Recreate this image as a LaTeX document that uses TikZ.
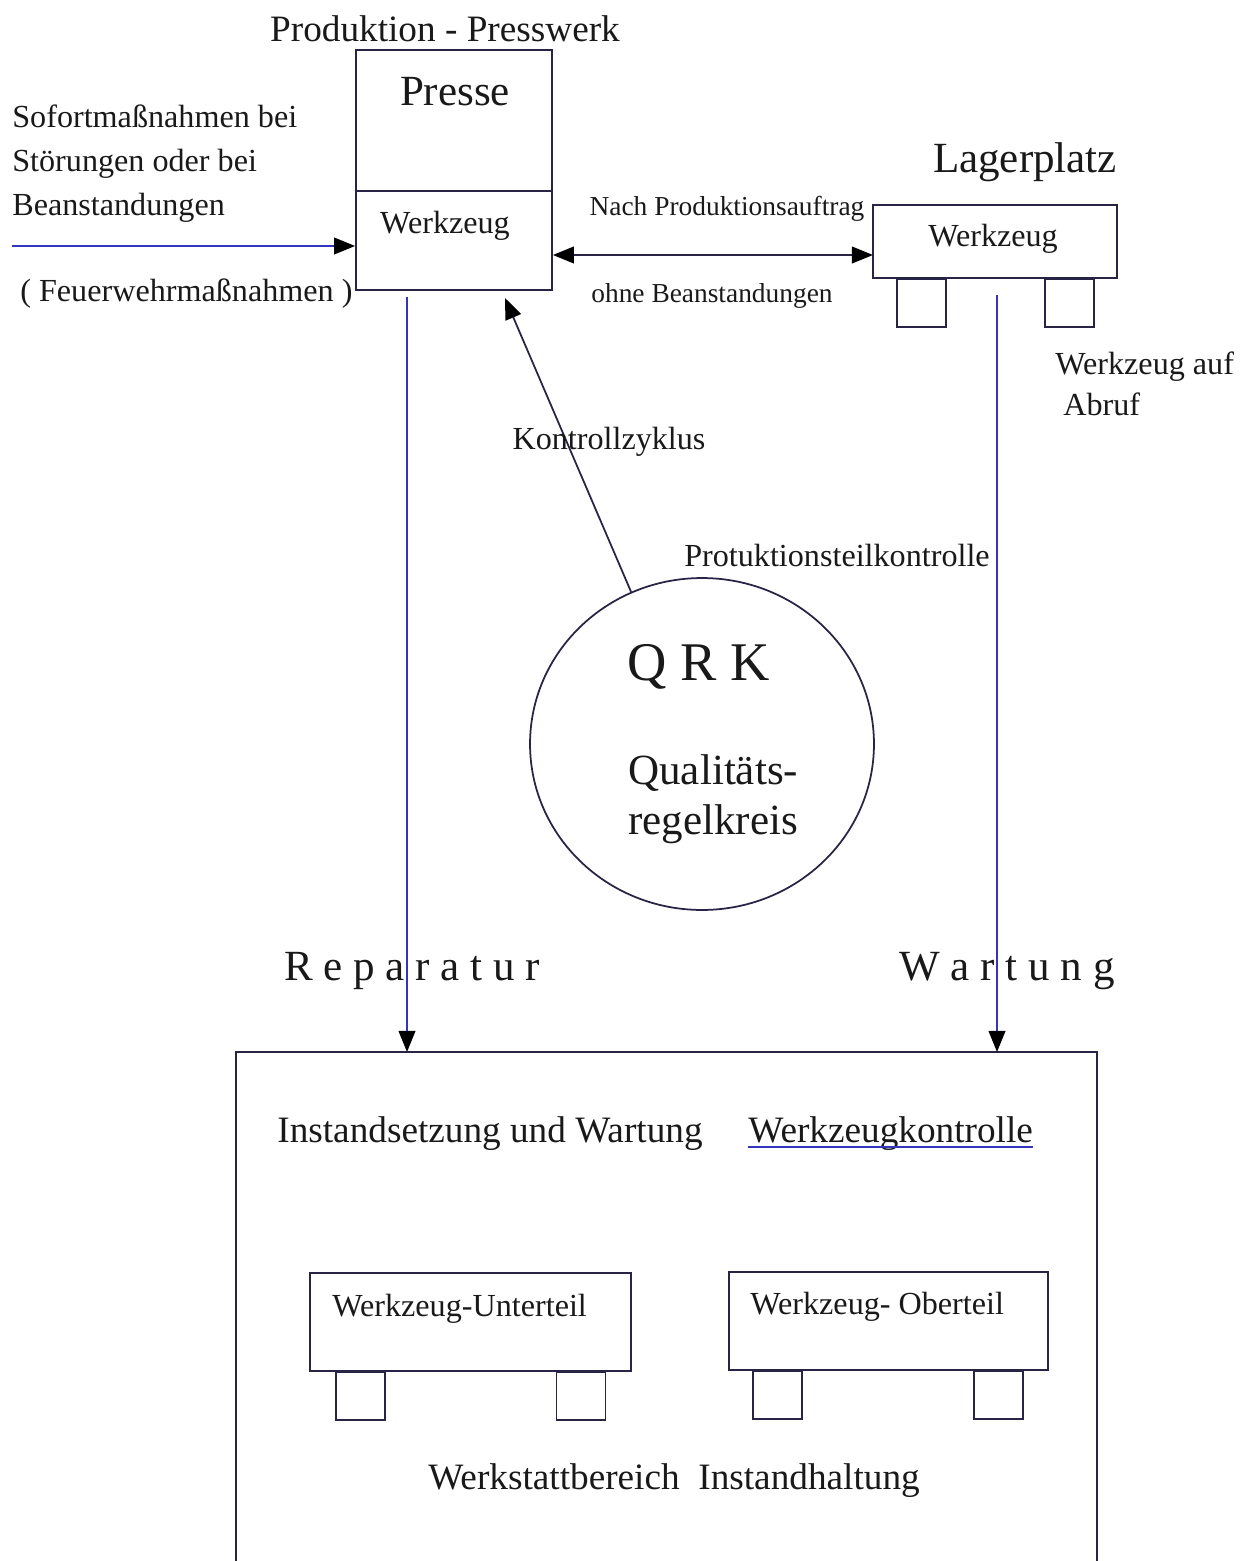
\documentclass[tikz,border=0pt]{standalone}
\usepackage{fontspec}
\setmainfont{Liberation Serif}
\usetikzlibrary{arrows.meta, shapes.geometric}
\definecolor{blaulinie}{RGB}{52,52,190}
\definecolor{dunkellinie}{RGB}{40,36,70}
\definecolor{schrift}{RGB}{25,25,25}
\newcommand{\fsklein}{\fontsize{15.6}{20}\selectfont}
\newcommand{\fsnorm}{\fontsize{18.3}{25}\selectfont}
\newcommand{\fsmittel}{\fontsize{21.2}{26}\selectfont}
\newcommand{\fsgross}{\fontsize{24.5}{28.5}\selectfont}
\newcommand{\fsqrk}{\fontsize{31}{36}\selectfont}

\tikzset{
  blau/.style={draw=blaulinie, line width=1pt},
  dunkel/.style={draw=dunkellinie, line width=1pt},
  arr/.style={-{Triangle[length=12pt, width=9.5pt, color=black]}},
  arrbeide/.style={{Triangle[length=12pt, width=9.5pt, color=black]}-{Triangle[length=12pt, width=9.5pt, color=black]}},
  box/.style={dunkel, rectangle, inner sep=0pt},
  fuss/.style={box, minimum width=0.98cm, minimum height=0.96cm, anchor=north},
  txt/.style={inner sep=0pt, text=schrift, font=\fsnorm, yshift=-0.08cm},
}

\begin{document}
\begin{tikzpicture}[x=0.02cm, y=-0.02cm]
\useasboundingbox (0,0) rectangle (1250,1561);

% Presswerk
\node[txt, font=\fsmittel] (produktion) at (445,25) {Produktion - Presswerk};
\node[box, minimum width=3.92cm, minimum height=4.8cm] (presse) at (454,170) {};
\draw[box] (presse.west |- 0,191) -- (presse.east |- 0,191);
\node[txt, font=\fsgross] (presse-titel) at (455,88) {Presse};
\node[txt] (presse-wz) at (445,222) {Werkzeug};

\node[txt, anchor=west, align=left] (sofort) at (12,160)
	{Sofortmaßnahmen bei\\Störungen oder bei\\Beanstandungen};
\coordinate (sofort-start) at (12,246);
\draw[blau, arr] (sofort-start) -- (sofort-start -| presse.west);
\node[txt, anchor=west] (feuerwehr) at (20,290) {( Feuerwehrmaßnahmen )};

% Lagerplatz
\node[txt, font=\fsgross] (lagerplatz) at (1025,158) {Lagerplatz};
\node[box, minimum width=4.88cm, minimum height=1.46cm] (lager) at (995,241.5) {};
\node[txt] (lager-wz) at (993,235) {Werkzeug};
\node[fuss] (lager-fuss1) at (921.5,278) {};
\node[fuss] (lager-fuss2) at (1069.5,278) {};
\node[txt, anchor=west] (abruf1) at (1055,363) {Werkzeug auf};
\node[txt, anchor=west] (abruf2) at (1063,400) {Abruf};

\coordinate (auftrag) at (873,255);
\draw[dunkel, arrbeide] (presse.east |- auftrag) -- (auftrag);
\node[txt, font=\fsklein] (nach) at (727,205) {Nach Produktionsauftrag};
\node[txt, font=\fsklein] (ohne) at (712,292) {ohne Beanstandungen};

% Qualitaetsregelkreis
\node[dunkel, ellipse, minimum width=6.88cm, minimum height=6.64cm, inner sep=0pt] (qrk) at (702,744) {};
\node[txt, font=\fsqrk] (qrk-titel) at (699,663) {Q R K};
\node[txt, font=\fsgross, anchor=west, align=left] (qrk-text) at (628,795) {Qualitäts-\\regelkreis};

\coordinate (kontrollziel) at (505,298);
\draw[dunkel, arr] (qrk.115) -- (kontrollziel);
\node[txt] (kontrolle) at (609,438) {Kontrollzyklus};
\node[txt] (teilkontrolle) at (837,551) {Protuktionsteilkontrolle};

% Werkstatt
\coordinate (werk-nw) at (236,1052);
\coordinate (werk-ne) at (1097,1052);
\draw[box] (werk-nw |- 0,1561) -- (werk-nw) -- (werk-ne) -- (werk-ne |- 0,1561);

\coordinate (reparatur-start) at (407,297);
\coordinate (wartung-start) at (997,295);
\draw[blau, arr] (reparatur-start) -- (reparatur-start |- werk-nw);
\draw[blau, arr] (wartung-start) -- (wartung-start |- werk-ne);
\node[txt, font=\fsgross] (reparatur) at (412,967) {R e p a r a t u r};
\node[txt, font=\fsgross] (wartung) at (1007,967) {W a r t u n g};

\node[txt, font=\fsmittel, anchor=west] (instand) at (277,1130) {Instandsetzung und Wartung};
\node[txt, font=\fsmittel, anchor=west] (wzkontrolle) at (748,1130) {Werkzeugkontrolle};
\draw[blau] ([yshift=-2.5pt]wzkontrolle.base west) -- ([yshift=-2.5pt]wzkontrolle.base east);

\node[box, minimum width=6.42cm, minimum height=1.96cm] (unterteil) at (470.5,1322) {};
\node[txt, anchor=west] (unterteil-text) at (332,1305) {Werkzeug-Unterteil};
\node[fuss] (unterteil-fuss1) at (360.5,1371) {};
\node[fuss] (unterteil-fuss2) at (581,1371) {};

\node[box, minimum width=6.38cm, minimum height=1.96cm] (oberteil) at (888.5,1321) {};
\node[txt, anchor=west] (oberteil-text) at (750,1303) {Werkzeug- Oberteil};
\node[fuss] (oberteil-fuss1) at (777.5,1370) {};
\node[fuss] (oberteil-fuss2) at (998.5,1370) {};

\node[txt, font=\fsmittel] (werkstatt) at (674,1477) {Werkstattbereich\ \ Instandhaltung};
\end{tikzpicture}
\end{document}
